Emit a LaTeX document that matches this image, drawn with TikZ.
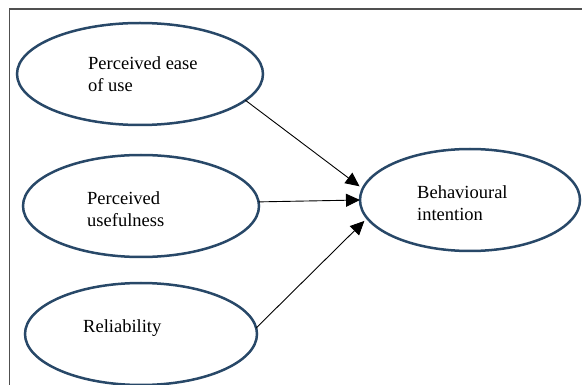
\documentclass[tikz,border=0pt]{standalone}
\usepackage{fontspec}
\setmainfont{Liberation Serif}
\usetikzlibrary{arrows.meta,shapes.geometric}
\definecolor{ringblue}{HTML}{284868}
\definecolor{framegray}{HTML}{505050}
\tikzset{
  construct/.style={ellipse, draw=ringblue, line width=2.5pt, inner sep=0pt, outer sep=0pt},
  lbl/.style={anchor=base west, inner sep=0pt, align=left, font=\fontsize{18.5}{22}\selectfont},
  link/.style={line width=0.9pt, -{Triangle[length=14pt,width=13pt]}},
}
\begin{document}
\begin{tikzpicture}[x=1pt,y=-1pt]
\useasboundingbox (0,0) rectangle (582,385);
\draw[framegray, line width=1.3pt] (9.5,385) -- (9.5,9) -- (582,9);
\node[construct, minimum width=246pt, minimum height=102pt] (pe) at (140,74) {};
\node[construct, minimum width=236pt, minimum height=102pt] (pu) at (141,206) {};
\node[construct, minimum width=232pt, minimum height=102pt] (rel) at (141,334) {};
\node[construct, minimum width=220pt, minimum height=102pt] (bi) at (470,200) {};
\node[lbl] (tpe) at (88,92) {Perceived ease\\of use};
\node[lbl] (tpu) at (87,227) {Perceived\\usefulness};
\node[lbl] (trel) at (83,333) {Reliability};
\node[lbl] (tbi) at (417,221) {Behavioural\\intention};
\draw[link, shorten >=4pt] (pe.-14) -- (bi.174);
\draw[link] (pu.2) -- (bi.west);
\draw[link, shorten >=4pt] (rel.3) -- (bi.-170);
\end{tikzpicture}
\end{document}
